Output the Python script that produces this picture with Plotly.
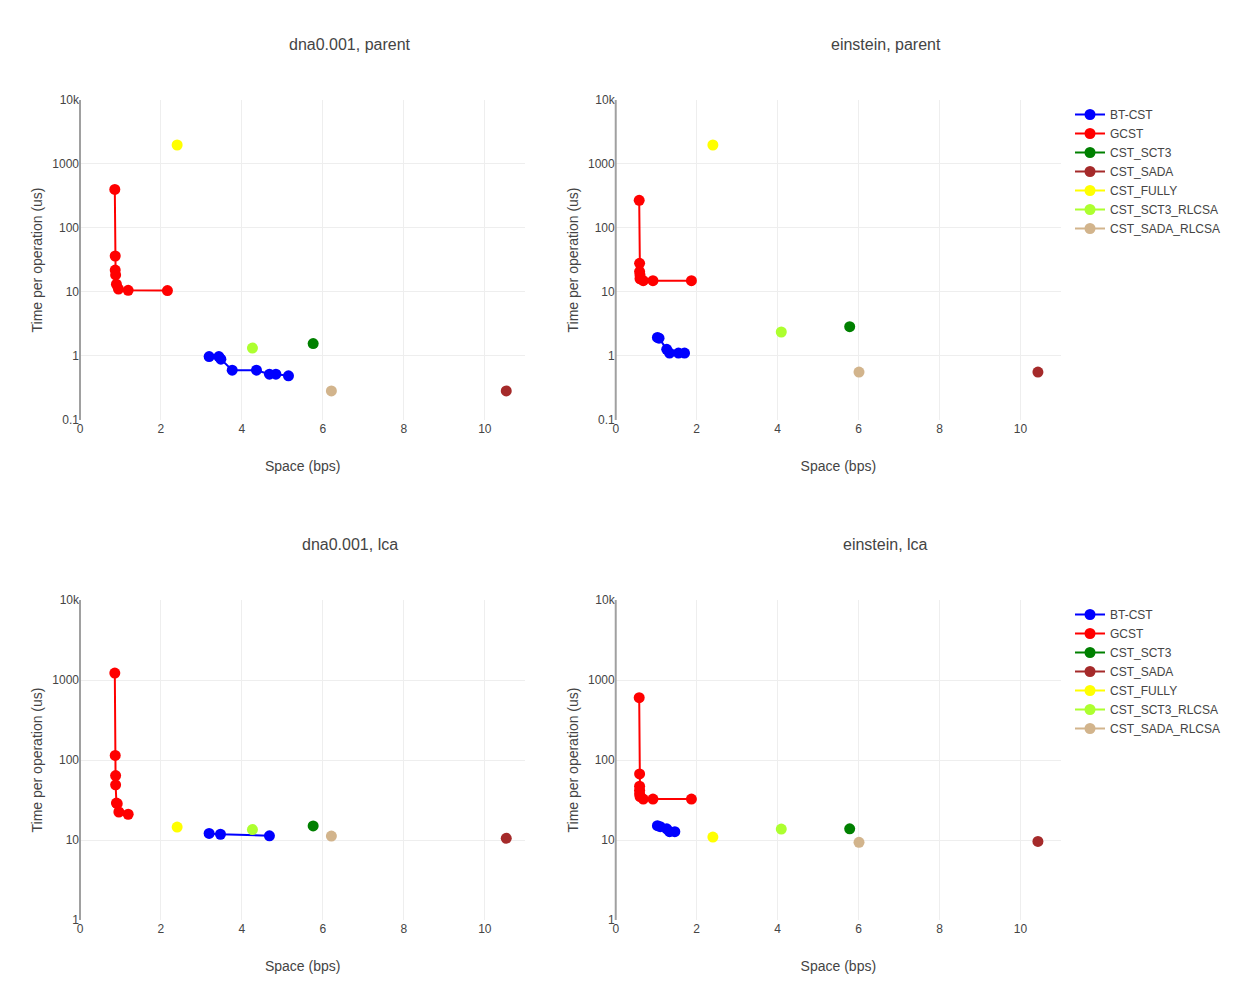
import plotly.graph_objects as go

# ---------------- data ----------------
series_names = ["BT-CST", "GCST", "CST_SCT3", "CST_SADA", "CST_FULLY", "CST_SCT3_RLCSA", "CST_SADA_RLCSA"]
series_colors = ["blue", "red", "green", "brown", "yellow", "greenyellow", "tan"]
panel_titles = ["dna0.001, parent", "einstein, parent", "dna0.001, lca", "einstein, lca"]

# dna0.001, parent
dna_parent_x = {
    "BT-CST": [3.19, 3.43, 3.48, 3.76, 4.36, 4.68, 4.84, 5.15],
    "GCST": [0.86, 0.87, 0.87, 0.88, 0.90, 0.95, 1.19, 2.16],
    "CST_SCT3": [5.76], "CST_SADA": [10.53], "CST_FULLY": [2.40],
    "CST_SCT3_RLCSA": [4.26], "CST_SADA_RLCSA": [6.21],
}
dna_parent_y = {
    "BT-CST": [0.98, 0.98, 0.89, 0.60, 0.60, 0.52, 0.52, 0.49],
    "GCST": [400, 36.5, 22, 18.5, 13.2, 11.1, 10.6, 10.5],
    "CST_SCT3": [1.56], "CST_SADA": [0.284], "CST_FULLY": [1980],
    "CST_SCT3_RLCSA": [1.33], "CST_SADA_RLCSA": [0.284],
}
# einstein, parent
ein_parent_x = {
    "BT-CST": [1.03, 1.07, 1.26, 1.33, 1.55, 1.70],
    "GCST": [0.58, 0.59, 0.59, 0.60, 0.60, 0.68, 0.92, 1.87],
    "CST_SCT3": [5.78], "CST_SADA": [10.43], "CST_FULLY": [2.40],
    "CST_SCT3_RLCSA": [4.09], "CST_SADA_RLCSA": [6.01],
}
ein_parent_y = {
    "BT-CST": [1.95, 1.90, 1.27, 1.11, 1.11, 1.11],
    "GCST": [271, 28, 20.8, 18.5, 16.1, 15, 15, 15],
    "CST_SCT3": [2.87], "CST_SADA": [0.56], "CST_FULLY": [1980],
    "CST_SCT3_RLCSA": [2.37], "CST_SADA_RLCSA": [0.56],
}
# dna0.001, lca
dna_lca_x = {
    "BT-CST": [3.19, 3.47, 4.68],
    "GCST": [0.86, 0.87, 0.88, 0.88, 0.90, 0.92, 0.96, 1.19],
    "CST_SCT3": [5.76], "CST_SADA": [10.53], "CST_FULLY": [2.40],
    "CST_SCT3_RLCSA": [4.26], "CST_SADA_RLCSA": [6.21],
}
dna_lca_y = {
    "BT-CST": [12.1, 11.8, 11.3],
    "GCST": [1223, 114, 64, 49, 29, 28.5, 22.4, 21],
    "CST_SCT3": [15], "CST_SADA": [10.5], "CST_FULLY": [14.5],
    "CST_SCT3_RLCSA": [13.5], "CST_SADA_RLCSA": [11.2],
}
# einstein, lca
ein_lca_x = {
    "BT-CST": [1.03, 1.10, 1.26, 1.33, 1.46],
    "GCST": [0.58, 0.59, 0.59, 0.59, 0.59, 0.60, 0.68, 0.92, 1.87],
    "CST_SCT3": [5.78], "CST_SADA": [10.43], "CST_FULLY": [2.40],
    "CST_SCT3_RLCSA": [4.09], "CST_SADA_RLCSA": [6.01],
}
ein_lca_y = {
    "BT-CST": [15.1, 14.7, 13.8, 12.7, 12.7],
    "GCST": [601, 67, 47, 42, 38, 35, 32.5, 32.5, 32.5],
    "CST_SCT3": [13.8], "CST_SADA": [9.6], "CST_FULLY": [10.9],
    "CST_SCT3_RLCSA": [13.7], "CST_SADA_RLCSA": [9.35],
}

panels = [
    (dna_parent_x, dna_parent_y),
    (ein_parent_x, ein_parent_y),
    (dna_lca_x, dna_lca_y),
    (ein_lca_x, ein_lca_y),
]

# ---------------- figure ----------------
fig = go.Figure()

x_domains = [[0, 0.4539], [0.5461, 1.0]]
y_domains = [[0.6098, 1.0], [0.0, 0.3902]]

for p, (xs, ys) in enumerate(panels):
    row, col = divmod(p, 2)
    ax = "" if p == 0 else str(p + 1)
    for name, color in zip(series_names, series_colors):
        fig.add_trace(go.Scatter(
            x=xs[name], y=ys[name], mode="lines+markers", name=name,
            line=dict(color=color, width=2),
            marker=dict(color=color, size=11),
            xaxis="x" + ax, yaxis="y" + ax,
            showlegend=(col == 1),
            legend="legend" if row == 0 else "legend2",
        ))

font_color = "#444"
shapes = []
for p in range(4):
    row, col = divmod(p, 2)
    ax = "" if p == 0 else str(p + 1)
    fig.layout["xaxis" + ax] = dict(
        domain=x_domains[col], anchor="y" + ax, range=[0, 11], dtick=2,
        showgrid=True, gridcolor="#eeeeee", zeroline=False, showline=False,
        title=dict(text="Space (bps)", font=dict(size=14, color=font_color), standoff=26),
        tickfont=dict(size=12, color=font_color),
    )
    fig.layout["yaxis" + ax] = dict(
        domain=y_domains[row], anchor="x" + ax, type="log",
        range=[-1, 4] if row == 0 else [0, 4], dtick=1,
        showgrid=True, gridcolor="#eeeeee", zeroline=False, showline=False,
        title=dict(text="Time per operation (us)", font=dict(size=14, color=font_color), standoff=6),
        tickfont=dict(size=12, color=font_color),
    )
    # zero line of the x axis (drawn at left edge of each panel)
    shapes.append(dict(
        type="line", xref="paper", yref="paper", layer="above",
        x0=x_domains[col][0], x1=x_domains[col][0],
        y0=y_domains[row][0], y1=y_domains[row][1],
        line=dict(color="#a0a0a0", width=2),
    ))

annotations = []
title_y = [1.068, 0.4585]
title_x = [0.2751, 0.8212]
for p, t in enumerate(panel_titles):
    row, col = divmod(p, 2)
    annotations.append(dict(
        text=t, xref="paper", yref="paper",
        x=title_x[col], y=title_y[row],
        xanchor="center", yanchor="middle", showarrow=False,
        font=dict(size=16, color=font_color),
    ))

fig.update_layout(
    width=1236, height=1000,
    margin=dict(l=80, r=174.5, t=100, b=80, autoexpand=False),
    paper_bgcolor="white", plot_bgcolor="white",
    font=dict(family="Arial, Liberation Sans, sans-serif", color=font_color),
    annotations=annotations,
    shapes=shapes,
    legend=dict(xref="container", yref="container", x=0.8657, y=0.9,
                xanchor="left", yanchor="top", font=dict(size=12)),
    legend2=dict(xref="container", yref="container", x=0.8657, y=0.4,
                 xanchor="left", yanchor="top", font=dict(size=12)),
)

fig.write_html("out.html")
